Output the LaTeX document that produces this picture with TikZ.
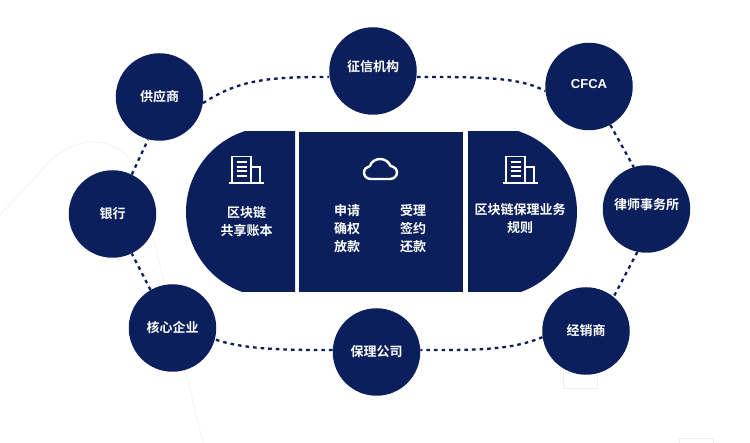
\documentclass[tikz,border=0pt]{standalone}
\usepackage{fontspec}
\setmainfont{Noto Sans CJK SC}[BoldFont={Noto Sans CJK SC Bold}]
\newfontfamily\latinbold{Liberation Sans Bold}
\usetikzlibrary{backgrounds}
\definecolor{navy}{HTML}{0A1F5C}
\definecolor{faint}{HTML}{F6F5EC}
\definecolor{faintbox}{HTML}{EFEFEF}
\tikzset{
  party/.style={circle,fill=navy,text=white,minimum size=87.5pt,inner sep=0pt,font=\fontsize{13}{15}\selectfont\bfseries},
  paneltext/.style={text=white,inner sep=0pt,align=center,font=\fontsize{13}{18}\selectfont\bfseries},
  link/.style={navy,line width=2.3pt,dash pattern=on 3.6pt off 4pt},
  iconline/.style={white,line width=1.5pt},
  iconrow/.style={white,line width=2pt},
}
\begin{document}
\begin{tikzpicture}[x=1pt,y=-1pt]
\useasboundingbox (0,0) rectangle (750,443);
\begin{scope}
  \clip (0,0) rectangle (750,443);
  \draw[faint,line width=1pt] (0,215) -- (53,158) .. controls (70,146) and (80,142) .. (92,142) .. controls (110,142) and (125,150) .. (133,163);
  \draw[faint,line width=1pt] (153,237) -- (203,443);
  \draw[faintbox,line width=.8pt] (563,370) -- (563,388) -- (597,388) -- (597,370);
  \draw[faintbox,line width=.8pt] (679,446) -- (679,438) -- (713,438) -- (713,446);
\end{scope}
% parties
\node[party] (zx) at (373,71) {\raisebox{10pt}{征信机构}};
\node[party] (cfca) at (589,86.5) {\raisebox{5pt}{\latinbold CFCA}};
\node[party] (ls) at (646.5,209) {\raisebox{11pt}{律师事务所}};
\node[party] (jx) at (586,331) {经销商};
\node[party] (bl) at (376.5,352) {\raisebox{-2pt}{保理公司}};
\node[party] (hx) at (172.5,328) {核心企业};
\node[party] (yh) at (112.5,214) {银行};
\node[party] (gy) at (159.5,97) {供应商};
% connectors
\begin{scope}[on background layer]
  \draw[link] (gy.-8) .. controls (240,79) and (270,77) .. (zx.west |- 0,77);
  \draw[link] (zx.east |- 0,77) .. controls (480,77) and (520,77) .. (cfca.186);
  \draw[link] (cfca.-61) -- (ls.107);
  \draw[link] (ls.-102) -- (jx.51);
  \draw[link] (jx.188) .. controls (510,351) and (470,350) .. (bl.east |- 0,350);
  \draw[link] (bl.west |- 0,350) .. controls (290,350) and (245,350) .. (hx.-15);
  \draw[link] (hx.120) -- (yh.-64);
  \draw[link] (yh.64) -- (gy.-105);
\end{scope}
% central panels
\begin{scope}
  \clip (186,132) rectangle (295,292);
  \fill[navy] (271,212) circle[radius=85];
  \fill[navy] (271,132) rectangle (295,292);
\end{scope}
\fill[navy] (299,132) rectangle (463,292);
\begin{scope}
  \clip (468,132) rectangle (577,292);
  \fill[navy] (492,212) circle[radius=85];
  \fill[navy] (468,132) rectangle (492,292);
\end{scope}
% building icons
\foreach \dx in {0,274}{
\begin{scope}[xshift=\dx pt]
  \draw[iconline] (229,183) -- (264,183);
  \draw[iconline] (232,183) -- (232,156.5) -- (251,156.5) -- (251,183);
  \draw[iconline] (251,167) -- (260,167) -- (260,183);
  \foreach \yy in {162.5,167,171.5,176.5} \draw[iconrow] (236.7,\yy) -- (246.7,\yy);
\end{scope}}
% cloud icon
\draw[white,line width=2.4pt,line join=round] (390,179) -- (371,179) .. controls (366,179) and (364,175.5) .. (364,172.5) .. controls (364,169) and (367,166.5) .. (370,166) .. controls (371,161.5) and (376,159) .. (380,159) .. controls (385,159) and (389,162) .. (390.5,166) .. controls (394,166.5) and (397,169) .. (397,172.5) .. controls (397,176) and (394,179) .. (390,179) -- cycle;
% panel text
\node[paneltext] (share) at (246.5,222) {区块链\\共享账本};
\node[paneltext] (leftcol) at (347,229) {申请\\确权\\放款};
\node[paneltext] (rightcol) at (413,229) {受理\\签约\\还款};
\node[paneltext] (rules) at (520,219) {区块链保理业务\\规则};
\end{tikzpicture}
\end{document}
